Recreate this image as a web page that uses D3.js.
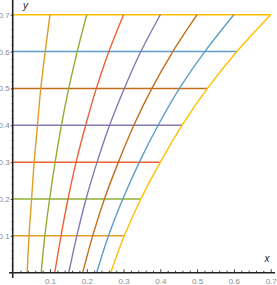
<!DOCTYPE html>
<html>
<head>
<meta charset="utf-8">
<script src="https://cdn.jsdelivr.net/npm/d3@7"></script>
<style>
  body { margin: 0; background: #fff; }
  svg { display: block; font-family: "Liberation Sans", Arial, sans-serif; }
  .tick text { fill: #8a8a8a; font-size: 8px; }
  .tick line { stroke: #444; }
  .axisLine { stroke: #222; stroke-width: 1.6; }
  .axisTitle { font-style: italic; font-size: 10px; fill: #222; }
</style>
</head>
<body>
<svg id="chart" width="277" height="285"></svg>
<script>
const yLevels = [0, 0.1, 0.2, 0.3, 0.4, 0.5, 0.6, 0.7]

// x position of each curve at the y levels above (curve names = its x at the top)
const curveNames = [0.1, 0.2, 0.3, 0.4, 0.5, 0.6, 0.7]
const curveX = [
    [0.038, 0.043, 0.050, 0.057, 0.066, 0.075, 0.087, 0.1],
    [0.076, 0.086, 0.099, 0.114, 0.131, 0.151, 0.174, 0.2],
    [0.113, 0.130, 0.149, 0.171, 0.197, 0.226, 0.260, 0.3],
    [0.151, 0.173, 0.198, 0.228, 0.262, 0.302, 0.347, 0.4],
    [0.189, 0.216, 0.248, 0.286, 0.328, 0.377, 0.434, 0.5],
    [0.227, 0.259, 0.298, 0.343, 0.394, 0.452, 0.521, 0.6],
    [0.265, 0.302, 0.347, 0.400, 0.459, 0.528, 0.608, 0.7]
]

// horizontal lines: y value and where they stop on the right
const hLineY = [0.1, 0.2, 0.3, 0.4, 0.5, 0.6, 0.7]
const hLineEnd = [0.302, 0.347, 0.400, 0.459, 0.528, 0.608, 0.7]

const colors = ['#e19c24', '#8fb032', '#eb6235', '#8778b3', '#c56e1a', '#5d9ec7', '#ffbf00']

const xTicks = [0.1, 0.2, 0.3, 0.4, 0.5, 0.6, 0.7]
const yTicks = [0.1, 0.2, 0.3, 0.4, 0.5, 0.6, 0.7]

const xScale = d3.scaleLinear().domain([0, 0.7]).range([13.2, 270.7])
const yScale = d3.scaleLinear().domain([0, 0.7]).range([272.7, 14.7])

const svg = d3.select('#chart')

// minor ticks
const minor = d3.range(0.02, 0.71, 0.02).filter(v => Math.abs(v * 10 - Math.round(v * 10)) > 0.01)

svg.append('g')
    .attr('transform', 'translate(0,' + yScale(0) + ')')
    .call(d3.axisBottom(xScale).tickValues(minor).tickSize(-2).tickFormat(''))
    .call(g => g.select('.domain').remove())

svg.append('g')
    .attr('transform', 'translate(0,' + yScale(0) + ')')
    .call(d3.axisBottom(xScale).tickValues(xTicks).tickSize(-3.5).tickPadding(5).tickFormat(d3.format('.1f')))
    .call(g => g.select('.domain').remove())
    .call(g => g.selectAll('text').attr('dy', '0.85em'))

svg.append('g')
    .attr('transform', 'translate(' + xScale(0) + ',0)')
    .call(d3.axisLeft(yScale).tickValues(minor).tickSize(1.5).tickFormat(''))
    .call(g => g.select('.domain').remove())

svg.append('g')
    .attr('transform', 'translate(' + xScale(0) + ',0)')
    .call(d3.axisLeft(yScale).tickValues(yTicks).tickSize(2.5).tickPadding(1).tickFormat(d3.format('.1f')))
    .call(g => g.select('.domain').remove())

// horizontal lines
svg.selectAll('.hline')
    .data(hLineY)
    .enter()
    .append('line')
    .classed('hline', true)
    .attr('x1', xScale(0))
    .attr('x2', (d, i) => xScale(hLineEnd[i]))
    .attr('y1', d => yScale(d))
    .attr('y2', d => yScale(d))
    .attr('stroke', (d, i) => colors[i])
    .attr('stroke-width', 1.5)

// curves
const line = d3.line()
    .x(d => xScale(d[0]))
    .y(d => yScale(d[1]))
    .curve(d3.curveMonotoneY)

svg.selectAll('.curve')
    .data(curveX)
    .enter()
    .append('path')
    .classed('curve', true)
    .attr('d', row => line(row.map((x, i) => [x, yLevels[i]])))
    .attr('fill', 'none')
    .attr('stroke', (d, i) => colors[i])
    .attr('stroke-width', 1.4)

// axis lines
svg.append('line').classed('axisLine', true)
    .attr('x1', 9).attr('x2', 275)
    .attr('y1', yScale(0)).attr('y2', yScale(0))
svg.append('line').classed('axisLine', true)
    .attr('x1', xScale(0) - 0.5).attr('x2', xScale(0) - 0.5)
    .attr('y1', 0).attr('y2', 278)

svg.append('text').classed('axisTitle', true)
    .attr('x', 23).attr('y', 8.5).text('y')
svg.append('text').classed('axisTitle', true)
    .attr('x', 264.5).attr('y', 261.5).text('x')
</script>
</body>
</html>
